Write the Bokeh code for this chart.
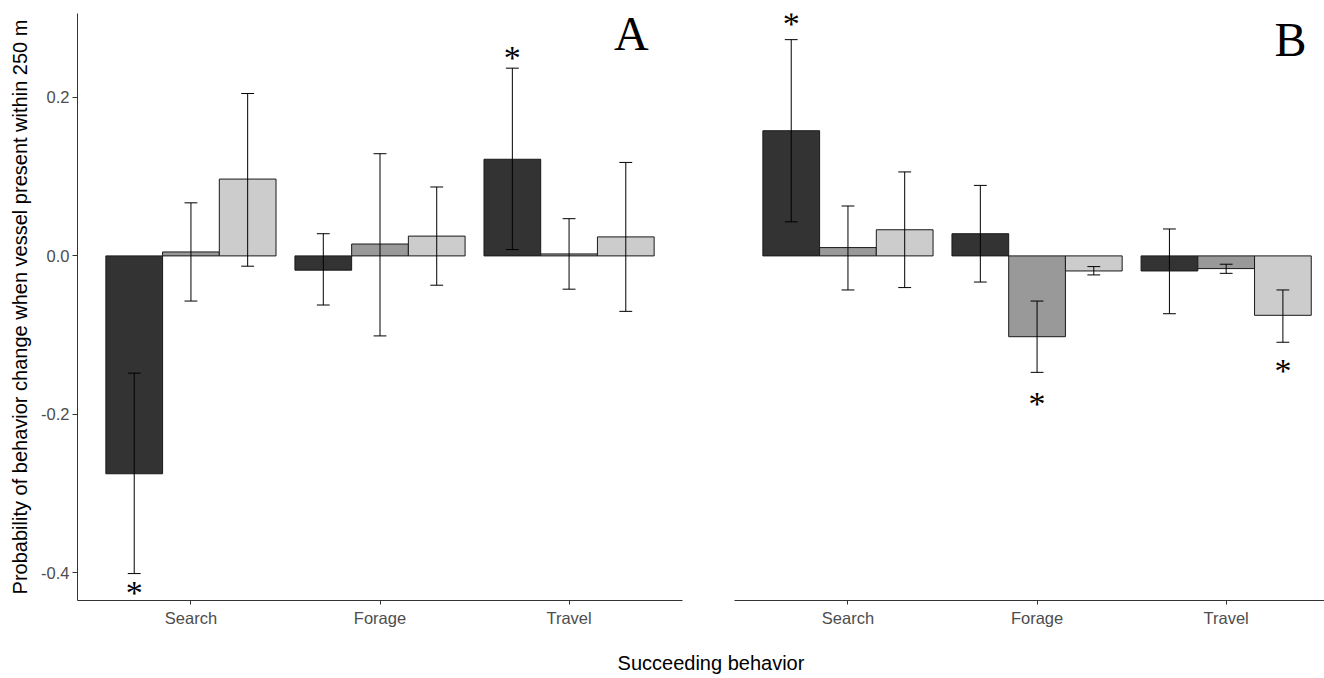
from bokeh.plotting import figure
from bokeh.models import Range1d, FixedTicker, Label, ColumnDataSource, Div
from bokeh.layouts import row, column
from bokeh.embed import file_html
from bokeh.resources import INLINE
from bokeh.core.properties import value

# ---------------- data ----------------
categories = ["Search", "Forage", "Travel"]
series_colors = ["#333333", "#999999", "#CCCCCC"]

# Panel A: estimates, lower and upper error limits (dark, mid, light series)
a_dark = [-0.275, -0.018, 0.122]
a_dark_lo = [-0.401, -0.062, 0.008]
a_dark_hi = [-0.148, 0.028, 0.237]
a_mid = [0.005, 0.015, 0.0025]
a_mid_lo = [-0.057, -0.101, -0.042]
a_mid_hi = [0.067, 0.129, 0.047]
a_light = [0.097, 0.025, 0.024]
a_light_lo = [-0.013, -0.037, -0.070]
a_light_hi = [0.205, 0.087, 0.118]

# Panel B
b_dark = [0.158, 0.028, -0.019]
b_dark_lo = [0.043, -0.033, -0.073]
b_dark_hi = [0.273, 0.089, 0.034]
b_mid = [0.0105, -0.102, -0.016]
b_mid_lo = [-0.043, -0.147, -0.022]
b_mid_hi = [0.063, -0.057, -0.0105]
b_light = [0.033, -0.019, -0.075]
b_light_lo = [-0.040, -0.024, -0.109]
b_light_hi = [0.106, -0.0135, -0.043]

# significance markers: category, series index, and the value level of the asterisk
a_sig_cat = ["Search", "Travel"]
a_sig_series = [0, 0]
a_sig_y = [-0.419, 0.257]
b_sig_cat = ["Search", "Forage", "Travel"]
b_sig_series = [0, 1, 2]
b_sig_y = [0.300, -0.180, -0.138]

y_ticks = [-0.4, -0.2, 0.0, 0.2]
y_tick_labels = ["-0.4", "-0.2", "0.0", "0.2"]

y_title = "Probability of behavior change when vessel present within 250 m"
x_title = "Succeeding behavior"

SANS = "Liberation Sans"
SERIF = "Liberation Serif"
offsets = [-0.3, 0.0, 0.3]
bar_w = 0.3
cap_half = 0.034


def make_panel(vals, los, his, sig_cat, sig_series, sig_y, letter, letter_xy,
               show_y, x_end, border_left, frame_w, border_right):
    p = figure(frame_width=frame_w, frame_height=587,
               min_border_left=border_left, min_border_right=border_right,
               min_border_top=13, min_border_bottom=40,
               x_range=Range1d(0.4, x_end), y_range=Range1d(-0.435, 0.306),
               output_backend="svg", toolbar_location=None,
               y_axis_location="left" if show_y else None,
               background_fill_color="white", border_fill_color="white")
    p.outline_line_color = None
    p.xgrid.visible = False
    p.ygrid.visible = False

    for si in range(3):
        xs = [categories.index(c) + 1 + offsets[si] for c in categories]
        src = ColumnDataSource(dict(x=xs, top=vals[si], lo=los[si], hi=his[si],
                                    c0=[x - cap_half for x in xs],
                                    c1=[x + cap_half for x in xs]))
        p.vbar(x="x", top="top", bottom=0, width=bar_w, source=src,
               fill_color=series_colors[si], line_color="#1a1a1a", line_width=1)
        p.segment(x0="x", x1="x", y0="lo", y1="hi", source=src,
                  line_color="black", line_width=1)
        p.segment(x0="c0", x1="c1", y0="lo", y1="lo", source=src,
                  line_color="black", line_width=1)
        p.segment(x0="c0", x1="c1", y0="hi", y1="hi", source=src,
                  line_color="black", line_width=1)

    sx = [categories.index(c) + 1 + offsets[s] for c, s in zip(sig_cat, sig_series)]
    p.text(x=sx, y=sig_y, y_offset=5, text=["*"] * len(sx),
           text_font=value(SERIF), text_font_size="34px",
           text_align="center", text_baseline="middle", text_color="black")

    p.add_layout(Label(x=letter_xy[0], y=letter_xy[1], text=letter,
                       text_font=SERIF, text_font_size="48px",
                       text_align="center", text_baseline="middle",
                       text_color="black"))

    xa = p.xaxis[0]
    xa.ticker = FixedTicker(ticks=[1, 2, 3])
    xa.major_label_overrides = {i + 1: c for i, c in enumerate(categories)}
    xa.minor_tick_line_color = None
    xa.major_tick_in = 0
    xa.major_tick_out = 4
    xa.axis_line_color = "#333333"
    xa.major_tick_line_color = "#333333"
    xa.major_label_text_font = SANS
    xa.major_label_text_font_size = "16.5px"
    xa.major_label_text_color = "#4D4D4D"
    xa.major_label_standoff = 4

    if show_y:
        ya = p.yaxis[0]
        ya.ticker = FixedTicker(ticks=y_ticks)
        ya.major_label_overrides = {t: l for t, l in zip(y_ticks, y_tick_labels)}
        ya.minor_tick_line_color = None
        ya.major_tick_in = 0
        ya.major_tick_out = 5
        ya.axis_line_color = "#333333"
        ya.major_tick_line_color = "#333333"
        ya.major_label_text_font = SANS
        ya.major_label_text_font_size = "16.5px"
        ya.major_label_text_color = "#4D4D4D"
        ya.major_label_standoff = 3
        ya.axis_label = y_title
        ya.axis_label_text_font = SANS
        ya.axis_label_text_font_size = "20px"
        ya.axis_label_text_font_style = "normal"
        ya.axis_label_text_color = "black"
        ya.axis_label_standoff = 7
    return p


pA = make_panel([a_dark, a_mid, a_light], [a_dark_lo, a_mid_lo, a_light_lo],
                [a_dark_hi, a_mid_hi, a_light_hi], a_sig_cat, a_sig_series, a_sig_y,
                "A", (3.33, 0.281), True, 3.6, 77, 605, 18)
pB = make_panel([b_dark, b_mid, b_light], [b_dark_lo, b_mid_lo, b_light_lo],
                [b_dark_hi, b_mid_hi, b_light_hi], b_sig_cat, b_sig_series, b_sig_y,
                "B", (3.34, 0.273), False, 3.52, 34, 590, 0)

title_div = Div(text=('<div style="width:1324px;box-sizing:border-box;'
                      'padding-left:98px;text-align:center;'
                      'font-family:\'Liberation Sans\',Arial,sans-serif;'
                      'font-size:20px;line-height:23px;color:black;padding-top:12px;">'
                      + x_title + '</div>'),
                width=1324, height=38, margin=0)

layout = column(row(pA, pB, spacing=0), title_div, spacing=0)

open("out.html", "w").write(file_html(layout, INLINE))
